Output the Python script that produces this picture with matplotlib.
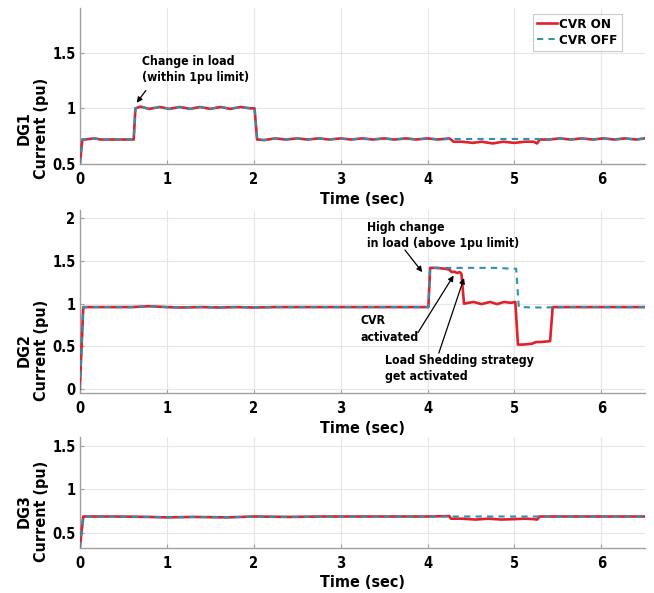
import matplotlib
matplotlib.use("Agg")
import matplotlib.pyplot as plt

plt.rcParams['font.family'] = ['Liberation Sans Narrow', 'DejaVu Sans']
plt.rcParams['font.stretch'] = 'condensed'
plt.rcParams['font.weight'] = 'bold'

# ---- DG1 current (pu) ----
dg1_t_on = [0, 0.03, 0.05, 0.17, 0.24, 0.31, 0.45, 0.62, 0.64, 0.70, 0.80, 0.92, 1.03, 1.15, 1.27, 1.38, 1.50,
            1.62, 1.73, 1.85, 1.96, 2.01, 2.04, 2.12, 2.25, 2.37, 2.5, 2.62, 2.75, 2.87, 3.0, 3.12, 3.25, 3.37,
            3.5, 3.62, 3.75, 3.87, 4.0, 4.12, 4.25, 4.27, 4.30, 4.40, 4.52, 4.62, 4.75, 4.87, 5.0, 5.12, 5.22,
            5.26, 5.29, 5.40, 5.52, 5.65, 5.77, 5.9, 6.02, 6.15, 6.27, 6.40, 6.5]
dg1_on = [0.50, 0.72, 0.72, 0.73, 0.72, 0.72, 0.72, 0.72, 1.00, 1.015, 0.995, 1.012, 0.995, 1.012, 0.995, 1.012,
          0.995, 1.012, 0.995, 1.012, 1.00, 1.00, 0.72, 0.715, 0.73, 0.72, 0.73, 0.72, 0.73, 0.72, 0.73, 0.72,
          0.73, 0.72, 0.73, 0.72, 0.73, 0.72, 0.73, 0.72, 0.73, 0.72, 0.70, 0.70, 0.69, 0.70, 0.685, 0.70,
          0.69, 0.70, 0.70, 0.685, 0.72, 0.72, 0.73, 0.72, 0.73, 0.72, 0.73, 0.72, 0.73, 0.72, 0.73]
dg1_t_off = [0, 0.03, 0.05, 0.17, 0.24, 0.31, 0.45, 0.62, 0.64, 0.70, 0.80, 0.92, 1.03, 1.15, 1.27, 1.38, 1.50,
             1.62, 1.73, 1.85, 1.96, 2.01, 2.04, 2.12, 2.25, 2.37, 2.5, 2.62, 2.75, 2.87, 3.0, 3.12, 3.25,
             3.37, 3.5, 3.62, 3.75, 3.87, 4.0, 4.12, 4.25, 4.5, 4.75, 5.0, 5.25, 5.40, 5.52, 5.65, 5.77, 5.9,
             6.02, 6.15, 6.27, 6.40, 6.5]
dg1_off = [0.50, 0.72, 0.72, 0.73, 0.72, 0.72, 0.72, 0.72, 1.00, 1.015, 0.995, 1.012, 0.995, 1.012, 0.995,
           1.012, 0.995, 1.012, 0.995, 1.012, 1.00, 1.00, 0.72, 0.715, 0.73, 0.72, 0.73, 0.72, 0.73, 0.72,
           0.73, 0.72, 0.73, 0.72, 0.73, 0.72, 0.73, 0.72, 0.73, 0.72, 0.725, 0.725, 0.725, 0.725, 0.725,
           0.72, 0.73, 0.72, 0.73, 0.72, 0.73, 0.72, 0.73, 0.72, 0.73]

# ---- DG2 current (pu) ----
dg2_t_on = [0, 0.04, 0.06, 0.3, 0.6, 0.8, 1.0, 1.15, 1.4, 1.6, 1.8, 2.0, 2.25, 2.5, 2.8, 3.1, 3.4, 3.7, 4.01,
            4.03, 4.1, 4.2, 4.25, 4.28, 4.31, 4.34, 4.37, 4.39, 4.42, 4.47, 4.53, 4.62, 4.72, 4.80, 4.88, 4.96,
            5.01, 5.04, 5.10, 5.20, 5.25, 5.30, 5.41, 5.44, 5.6, 5.8, 6.0, 6.2, 6.5]
dg2_on = [0.0, 0.96, 0.96, 0.96, 0.96, 0.97, 0.96, 0.955, 0.96, 0.955, 0.96, 0.955, 0.96, 0.96, 0.96, 0.96,
          0.96, 0.96, 0.96, 1.42, 1.42, 1.41, 1.40, 1.37, 1.375, 1.36, 1.37, 1.35, 1.00, 1.01, 1.02, 0.995,
          1.02, 0.995, 1.02, 1.01, 1.02, 0.52, 0.52, 0.53, 0.55, 0.55, 0.56, 0.96, 0.96, 0.96, 0.96, 0.96, 0.96]
dg2_t_off = [0, 0.04, 0.06, 0.3, 0.6, 0.8, 1.0, 1.15, 1.4, 1.6, 1.8, 2.0, 2.25, 2.5, 2.8, 3.1, 3.4, 3.7, 4.01,
             4.03, 4.25, 4.5, 4.75, 5.0, 5.02, 5.05, 5.3, 5.6, 5.9, 6.2, 6.5]
dg2_off = [0.0, 0.96, 0.96, 0.96, 0.96, 0.97, 0.96, 0.955, 0.96, 0.955, 0.96, 0.955, 0.96, 0.96, 0.96, 0.96,
           0.96, 0.96, 0.96, 1.42, 1.42, 1.42, 1.42, 1.41, 1.41, 0.96, 0.955, 0.96, 0.96, 0.96, 0.96]

# ---- DG3 current (pu) ----
dg3_t_on = [0, 0.04, 0.06, 0.4, 0.8, 1.0, 1.3, 1.7, 2.0, 2.4, 2.8, 3.2, 3.6, 4.0, 4.25, 4.27, 4.40, 4.55,
            4.70, 4.85, 5.0, 5.12, 5.22, 5.26, 5.29, 5.6, 6.0, 6.3, 6.5]
dg3_on = [0.33, 0.69, 0.69, 0.69, 0.685, 0.68, 0.685, 0.68, 0.69, 0.685, 0.69, 0.69, 0.69, 0.69, 0.695,
          0.665, 0.665, 0.655, 0.665, 0.655, 0.66, 0.665, 0.66, 0.655, 0.69, 0.69, 0.69, 0.69, 0.69]
dg3_t_off = [0, 0.04, 0.06, 0.4, 0.8, 1.0, 1.3, 1.7, 2.0, 2.4, 2.8, 3.2, 3.6, 4.0, 4.5, 5.0, 5.3, 5.6, 6.0,
             6.3, 6.5]
dg3_off = [0.33, 0.69, 0.69, 0.69, 0.685, 0.68, 0.685, 0.68, 0.69, 0.685, 0.69, 0.69, 0.69, 0.69, 0.69,
           0.69, 0.69, 0.69, 0.69, 0.69, 0.69]

x_ticks = [0, 1, 2, 3, 4, 5, 6]
panels = [
    dict(name="DG1", t_on=dg1_t_on, on=dg1_on, t_off=dg1_t_off, off=dg1_off,
         ylim=(0.5, 1.9), yticks=[0.5, 1, 1.5], rect=[0.122, 0.7234, 0.864, 0.263], label_y=0.23),
    dict(name="DG2", t_on=dg2_t_on, on=dg2_on, t_off=dg2_t_off, off=dg2_off,
         ylim=(-0.05, 2.1), yticks=[0, 0.5, 1, 1.5, 2], rect=[0.122, 0.337, 0.864, 0.309], label_y=0.235),
    dict(name="DG3", t_on=dg3_t_on, on=dg3_on, t_off=dg3_t_off, off=dg3_off,
         ylim=(0.33, 1.6), yticks=[0.5, 1, 1.5], rect=[0.122, 0.076, 0.864, 0.187], label_y=0.33),
]

RED = '#e0202a'
TEAL = '#2a93b5'

fig = plt.figure(figsize=(6.54, 5.93), dpi=100)
axes = []
for p in panels:
    ax = fig.add_axes(p["rect"])
    ax.plot(p["t_on"], p["on"], color=RED, lw=1.9, label="CVR ON", zorder=3)
    ax.plot(p["t_off"], p["off"], color=TEAL, lw=1.5, ls=(0, (3, 2.5)), label="CVR OFF", zorder=4)
    ax.set_xlim(0, 6.5)
    ax.set_ylim(*p["ylim"])
    ax.set_xticks(x_ticks)
    ax.set_yticks(p["yticks"])
    ax.set_yticklabels([f"{v:g}" for v in p["yticks"]])
    ax.grid(True, color='#e6e6e6', lw=0.8)
    ax.set_axisbelow(True)
    for s in ("top", "right"):
        ax.spines[s].set_visible(False)
    for s in ("left", "bottom"):
        ax.spines[s].set_color('#a0a0a0')
        ax.spines[s].set_linewidth(1.0)
    ax.tick_params(direction='in', length=3, color='#a0a0a0', labelsize=10.5)
    ax.tick_params(axis='x', pad=6)
    ax.tick_params(axis='y', pad=3)
    for lbl in ax.get_xticklabels() + ax.get_yticklabels():
        lbl.set_fontweight('bold')
    ax.set_xlabel("Time (sec)", fontsize=11.5, fontweight='bold', labelpad=3)
    ax.set_ylabel(p["name"] + "\nCurrent (pu)", fontsize=11.5, fontweight='bold', linespacing=1.25)
    ax.yaxis.set_label_coords(-0.054, p["label_y"])
    axes.append(ax)

ax1, ax2, ax3 = axes
leg = ax1.legend(loc='upper right', bbox_to_anchor=(0.959, 0.962), borderaxespad=0.0,
                 frameon=True, fancybox=False, edgecolor='#bdbdbd',
                 handlelength=1.5, handletextpad=0.15, borderpad=0.3, labelspacing=0.2,
                 prop={'weight': 'bold', 'size': 9.6, 'stretch': 'condensed'})
leg.get_frame().set_linewidth(0.8)

arrow = dict(arrowstyle='-|>', color='black', lw=0.9, mutation_scale=8, shrinkA=0, shrinkB=0)
note = dict(fontsize=8.8, fontweight='bold', ha='left', va='center', linespacing=1.35)

ax1.text(0.72, 1.35, "Change in load\n(within 1pu limit)", **note)
ax1.annotate("", xy=(0.655, 1.05), xytext=(0.76, 1.16), arrowprops=arrow)

ax2.text(3.30, 1.80, "High change\nin load (above 1pu limit)", **note)
ax2.annotate("", xy=(3.94, 1.37), xytext=(3.74, 1.63), arrowprops=arrow)
ax2.text(3.23, 0.70, "CVR\nactivated", **note)
ax2.annotate("", xy=(4.30, 1.33), xytext=(3.89, 0.66), arrowprops=arrow)
ax2.text(3.51, 0.24, "Load Shedding strategy\nget activated", **note)
ax2.annotate("", xy=(4.42, 1.30), xytext=(4.13, 0.42), arrowprops=arrow)

fig.savefig("out.png", dpi=100)
